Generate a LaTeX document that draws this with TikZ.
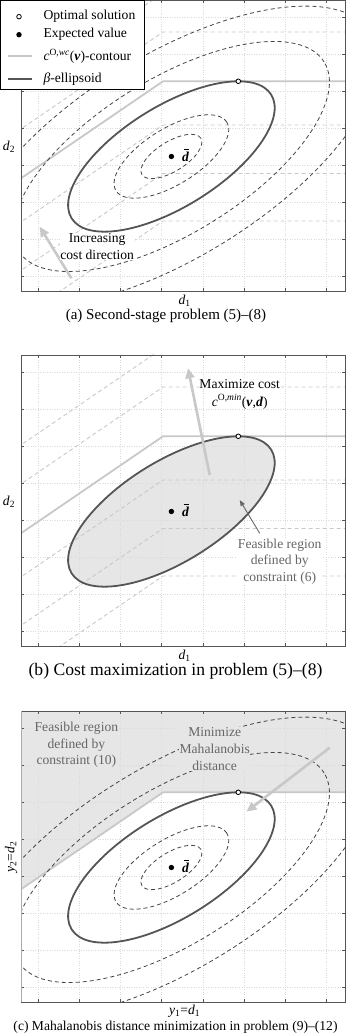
\documentclass[tikz,border=0pt]{standalone}
\usepackage{fontspec}
\setmainfont{Liberation Serif}
\usetikzlibrary{arrows.meta}
\definecolor{framec}{HTML}{555555}
\definecolor{lightc}{HTML}{C8C8C8}
\definecolor{darkc}{HTML}{555555}
\definecolor{dashc}{HTML}{444444}
\definecolor{gridc}{HTML}{DADADA}
\definecolor{fillc}{HTML}{E6E6E6}
\definecolor{notec}{HTML}{666666}
\tikzset{
 gridline/.style={gridc, line width=0.4pt, dash pattern=on 0.6pt off 1.8pt},
 frameline/.style={framec, line width=0.8pt},
 tickline/.style={framec, line width=0.6pt},
 contourline/.style={lightc, line width=1.8pt},
 contourdash/.style={lightc, line width=0.9pt, dash pattern=on 4pt off 3pt},
 ellipsoidline/.style={darkc, line width=1.8pt},
 mahadash/.style={dashc, line width=0.8pt, dash pattern=on 4pt off 3pt},
 bigarrow/.style={lightc, line width=2.6pt, -{Triangle[length=10pt,width=9pt]}},
 thinarrow/.style={notec, line width=0.9pt, -{Triangle[length=6pt,width=4.5pt]}},
 optpt/.style={circle, draw=black, fill=white, line width=0.8pt, inner sep=0pt, minimum size=4.6pt},
 exppt/.style={circle, fill=black, inner sep=0pt, minimum size=5.4pt},
 lab/.style={font=\fontsize{13.6}{16.7}\selectfont, inner sep=1pt},
 axlab/.style={font=\fontsize{13.6}{16.7}\selectfont, inner sep=0pt},
 note/.style={lab, align=center},
 barline/.style={black, line width=0.8pt},
}
\newcommand{\pgrid}{%
  \foreach \gx in {17,58.2,99.4,140.6,181.8,223,264.2,305.4} {\draw[gridline] (\gx,0) -- (\gx,291);}
  \foreach \gy in {14.3,51.3,88.3,125.3,162.3,199.3,236.3,273.3} {\draw[gridline] (0,\gy) -- (324,\gy);}
}
\newcommand{\pframe}{%
  \foreach \gx in {17,58.2,99.4,140.6,181.8,223,264.2,305.4} {\draw[tickline] (\gx,0) -- (\gx,3); \draw[tickline] (\gx,291) -- (\gx,288);}
  \foreach \gy in {14.3,51.3,88.3,125.3,162.3,199.3,236.3,273.3} {\draw[tickline] (0,\gy) -- (3,\gy); \draw[tickline] (324,\gy) -- (321,\gy);}
  \draw[frameline] (0,0) rectangle (324,291);
}
\newcommand{\costline}[2]{\draw[#1] (-258,#2-273.2) -- (142,#2) -- (330,#2);}
\newcommand{\mahaell}{%
  \foreach \s in {0.295,0.555,1.53,2.0} {\draw[mahadash, rotate around={31.75:(150.4,134.5)}] (150.4,134.5) ellipse [x radius=117.4*\s, y radius=50.4*\s];}
}
\newcommand{\betaell}[1]{\draw[#1, rotate around={31.75:(150.4,134.5)}] (150.4,134.5) ellipse [x radius=117.4, y radius=50.4];}
% centre dot with bold italic d and a bar drawn as a line
\newcommand{\centremark}[1]{%
  \node[exppt] (e#1) at (150.4,134.5) {};
  \node[lab, anchor=west, inner sep=0pt] (d#1) at (160.8,134.5) {\textbf{\textit{d}}};
  \draw[barline] ([shift={(-1.6,2.2)}]d#1.north) -- ([shift={(3.6,2.2)}]d#1.north);
}
\begin{document}
\begin{tikzpicture}[x=1pt,y=1pt]
\useasboundingbox (0,0) rectangle (349,1035);
% ---------------- panel (a)
\begin{scope}[shift={(21,744)}]
  \begin{scope}
    \clip (0,0) rectangle (324,291);
    \pgrid
    \foreach \L in {298,259,166,117.5,70} {\costline{contourdash}{\L}}
    \costline{contourline}{209.7}
    \mahaell
    \betaell{ellipsoidline}
  \end{scope}
  \pframe
  \centremark{a}
  \node[optpt] (oa) at (217.3,209.7) {};
  \coordinate (aS) at (50.4,12.7);
  \coordinate (aE) at (18.7,64.3);
  \draw[bigarrow] (aS) -- (aE);
  \node[note, fill=white, inner sep=0.5pt] (ta) at (76.2,44.4) {Increasing\\cost direction};
  \node[axlab] (xa) at (163.7,-9.5) {\textit{d}\textsubscript{1}};
  \node[axlab] (ya) at (-12,144.3) {\textit{d}\textsubscript{2}};
  \node[axlab, font=\fontsize{15}{18}\selectfont] (capa) at (145,-25) {(a) Second-stage problem (5)–(8)};
\end{scope}
% legend
\draw[black, line width=0.9pt, fill=white] (0,1035) rectangle (144.3,945.7);
\node[optpt] (lo) at (19,1018.3) {};
\node[exppt] (le) at (19,1000.3) {};
\coordinate (lc1) at (8.3,979); \coordinate (lc2) at (31.7,979);
\draw[contourline] (lc1) -- (lc2);
\coordinate (lb1) at (8.3,956); \coordinate (lb2) at (31.7,956);
\draw[ellipsoidline] (lb1) -- (lb2);
\node[lab, anchor=west] (t1) at (42.3,1018.3) {Optimal solution};
\node[lab, anchor=west] (t2) at (42.3,1000.3) {Expected value};
\node[lab, anchor=west] (t3) at (42.3,979) {\textit{c}\textsuperscript{O,\textit{wc}}(\textbf{\textit{v}})-contour};
\node[lab, anchor=west] (t4) at (42.3,956) {\textit{β}-ellipsoid};
% ---------------- panel (b)
\begin{scope}[shift={(21,389)}]
  \begin{scope}
    \clip (0,0) rectangle (324,291);
    \fill[fillc, rotate around={31.75:(150.4,134.5)}] (150.4,134.5) ellipse [x radius=117.4, y radius=50.4];
    \pgrid
    \foreach \L in {298,259,166,117.5,70} {\costline{contourdash}{\L}}
    \costline{contourline}{209.7}
    \betaell{ellipsoidline}
  \end{scope}
  \pframe
  \centremark{b}
  \node[optpt] (ob) at (217.3,209.7) {};
  \coordinate (bS) at (188.7,171);
  \coordinate (bE) at (167,277.7);
  \draw[bigarrow] (bS) -- (bE);
  \node[note, fill=white, inner sep=0.5pt] (tb1) at (218.7,261.7) {Maximize cost};
  \node[note, inner sep=0.5pt] (tb2) at (218.7,244.3) {\textit{c}\textsuperscript{O,\textit{min}}(\textbf{\textit{v}},\textbf{\textit{d}})};
  \node[note, text=notec, fill=white, inner sep=0.5pt] (tb3) at (258.7,84.3) {Feasible region\\defined by\\constraint (6)};
  \coordinate (cS) at (238.7,112.7);
  \coordinate (cE) at (218.7,146);
  \draw[thinarrow] (cS) -- (cE);
  \node[axlab] (xb) at (163.7,-9.5) {\textit{d}\textsubscript{1}};
  \node[axlab] (yb) at (-12,144.3) {\textit{d}\textsubscript{2}};
  \node[axlab, font=\fontsize{17.6}{20}\selectfont] (capb) at (154.5,-25) {(b) Cost maximization in problem (5)–(8)};
\end{scope}
% ---------------- panel (c)
\begin{scope}[shift={(21,33)}]
  \begin{scope}
    \clip (0,0) rectangle (324,291);
    \fill[fillc] (0,291) -- (324,291) -- (324,209.7) -- (142,209.7) -- (0,112.7) -- cycle;
    \pgrid
    \costline{contourline}{209.7}
    \mahaell
    \betaell{ellipsoidline}
  \end{scope}
  \pframe
  \draw[line width=0.9pt, color=gray!65] (0,0) -- (0,291);
  \centremark{c}
  \node[optpt] (oc) at (217.3,209.7) {};
  \coordinate (gS) at (308.7,254.3);
  \coordinate (gE) at (225.4,190.3);
  \draw[bigarrow] (gS) -- (gE);
  \node[note, text=notec, fill=fillc, inner sep=0.5pt] (tc1) at (55.4,257) {Feasible region\\defined by\\constraint (10)};
  \node[note, text=notec, fill=fillc, inner sep=0.5pt] (tc2) at (193.7,253) {Minimize\\Mahalanobis\\distance};
  \node[axlab] (xc) at (163.7,-9.5) {\textit{y}\textsubscript{1}=\textit{d}\textsubscript{1}};
  \node[axlab, rotate=90] (yc) at (-10,145) {\textit{y}\textsubscript{2}=\textit{d}\textsubscript{2}};
  \node[axlab] (capc) at (154.5,-24.8) {(c) Mahalanobis distance minimization in problem (9)–(12)};
\end{scope}
\end{tikzpicture}
\end{document}
